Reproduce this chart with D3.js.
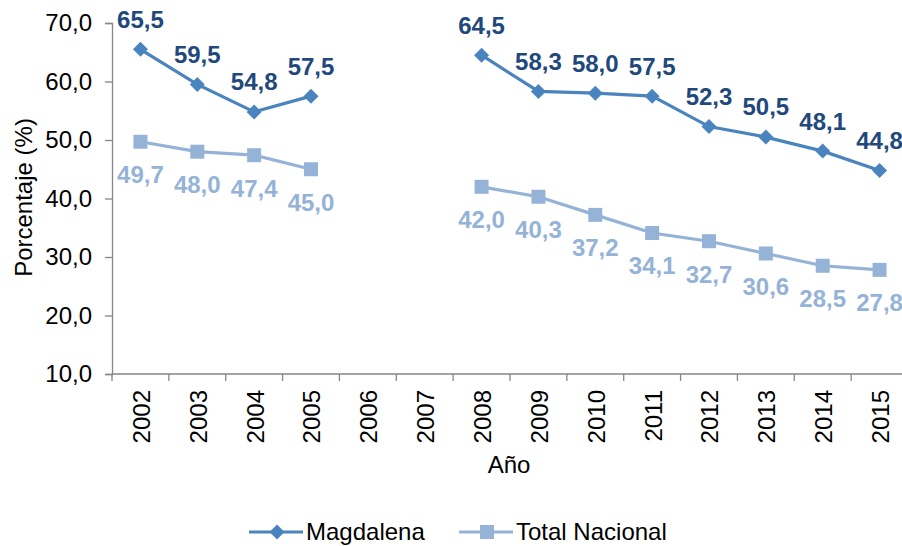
<!DOCTYPE html>
<html>
<head>
<meta charset="utf-8">
<script src="https://cdn.jsdelivr.net/npm/d3@7"></script>
<style>
  body { margin: 0; background: #fff; }
  text { font-family: "Liberation Sans", Arial, sans-serif; }
</style>
</head>
<body>
<div id="chart"></div>
<script>
// data
var years = ["2002", "2003", "2004", "2005", "2006", "2007", "2008", "2009", "2010", "2011", "2012", "2013", "2014", "2015"];
var magdalena = [65.5, 59.5, 54.8, 57.5, null, null, 64.5, 58.3, 58.0, 57.5, 52.3, 50.5, 48.1, 44.8];
var totalNacional = [49.7, 48.0, 47.4, 45.0, null, null, 42.0, 40.3, 37.2, 34.1, 32.7, 30.6, 28.5, 27.8];
var yTicks = [10, 20, 30, 40, 50, 60, 70];

var W = 902, H = 546;
var margin = {top: 23, right: -6, bottom: 172, left: 112};
var width = W - margin.left - margin.right;
var height = H - margin.top - margin.bottom;
var fs = 24;

var axisColor = "#868686";
var darkBlue = "#4A84BE", darkLabel = "#1F497D";
var lightBlue = "#95B3D7";

var svg = d3.select("#chart")
    .append("svg")
    .attr("width", W)
    .attr("height", H)
    .append("g")
    .attr("transform", "translate(" + margin.left + "," + margin.top + ")");

var x = d3.scaleBand()
    .domain(years)
    .range([0, width]);

var y = d3.scaleLinear()
    .domain([10, 70])
    .range([height, 0]);

function fmt(v) {
    return d3.format(".1f")(v).replace(".", ",");
}

// Y axis
var yAxis = svg.append("g")
    .call(d3.axisLeft(y).tickValues(yTicks).tickSize(7).tickFormat(fmt));
yAxis.select(".domain").attr("stroke", axisColor).attr("stroke-width", 1.3);
yAxis.selectAll(".tick line").attr("stroke", axisColor).attr("stroke-width", 1.3);
yAxis.selectAll(".tick text")
    .attr("font-size", fs)
    .attr("fill", "#000")
    .attr("x", -20)
    .style("font-family", "Liberation Sans, Arial, sans-serif");

// X axis (ticks on category boundaries)
var xg = svg.append("g")
    .attr("transform", "translate(0," + height + ")");
xg.append("line")
    .attr("x1", 0).attr("x2", width)
    .attr("stroke", axisColor).attr("stroke-width", 1.3);
xg.selectAll(".xtick")
    .data(years)
    .enter()
    .append("line")
    .attr("x1", function(d) { return x(d); })
    .attr("x2", function(d) { return x(d); })
    .attr("y1", 0).attr("y2", 7)
    .attr("stroke", axisColor).attr("stroke-width", 1.3);
xg.selectAll(".xlabel")
    .data(years)
    .enter()
    .append("text")
    .attr("transform", function(d) {
        return "translate(" + (x(d) + x.bandwidth() / 2 + 1) + ",16) rotate(-90)";
    })
    .attr("text-anchor", "end")
    .attr("dy", "0.35em")
    .attr("font-size", fs)
    .attr("fill", "#000")
    .text(function(d) { return d; });

// axis titles
svg.append("text")
    .attr("transform", "translate(" + (-88) + "," + (height / 2 - 1) + ") rotate(-90)")
    .attr("text-anchor", "middle")
    .attr("dy", "0.35em")
    .attr("font-size", fs)
    .text("Porcentaje (%)");

svg.append("text")
    .attr("x", 397)
    .attr("y", 442)
    .attr("text-anchor", "middle")
    .attr("dy", "0.35em")
    .attr("font-size", fs)
    .text("Año");

function cx(i) { return x(years[i]) + x.bandwidth() / 2; }

var line = d3.line()
    .defined(function(d) { return d != null; })
    .x(function(d, i) { return cx(i); })
    .y(function(d) { return y(d); });

function drawSeries(values, color, labelColor, marker, labelDy) {
    svg.append("path")
        .datum(values)
        .attr("fill", "none")
        .attr("stroke", color)
        .attr("stroke-width", 3.2)
        .attr("d", line);

    var pts = values.map(function(v, i) { return {v: v, i: i}; })
        .filter(function(d) { return d.v != null; });

    svg.selectAll(null)
        .data(pts)
        .enter()
        .append("path")
        .attr("transform", function(d) { return "translate(" + cx(d.i) + "," + y(d.v) + ")"; })
        .attr("d", marker)
        .attr("fill", color);

    svg.selectAll(null)
        .data(pts)
        .enter()
        .append("text")
        .attr("x", function(d) { return cx(d.i); })
        .attr("y", function(d) { return y(d.v) + labelDy; })
        .attr("text-anchor", "middle")
        .attr("dy", "0.35em")
        .attr("font-size", fs)
        .attr("font-weight", "bold")
        .attr("fill", labelColor)
        .text(function(d) { return fmt(d.v); });
}

var diamond = "M0,-7.5L7.5,0L0,7.5L-7.5,0Z";
var square = "M-7,-7H7V7H-7Z";

drawSeries(totalNacional, lightBlue, lightBlue, square, 33);
drawSeries(magdalena, darkBlue, darkLabel, diamond, -30);

// legend
var legend = d3.select("svg").append("g")
    .attr("transform", "translate(0,532)");
var items = [
    {name: "Magdalena", color: darkBlue, marker: diamond, x0: 249},
    {name: "Total Nacional", color: lightBlue, marker: square, x0: 459}
];
items.forEach(function(it) {
    legend.append("line")
        .attr("x1", it.x0).attr("x2", it.x0 + 54)
        .attr("stroke", it.color).attr("stroke-width", 3.2);
    legend.append("path")
        .attr("transform", "translate(" + (it.x0 + 28) + ",0)")
        .attr("d", it.marker)
        .attr("fill", it.color);
    legend.append("text")
        .attr("x", it.x0 + 57)
        .attr("dy", "0.35em")
        .attr("font-size", fs)
        .text(it.name);
});
</script>
</body>
</html>
